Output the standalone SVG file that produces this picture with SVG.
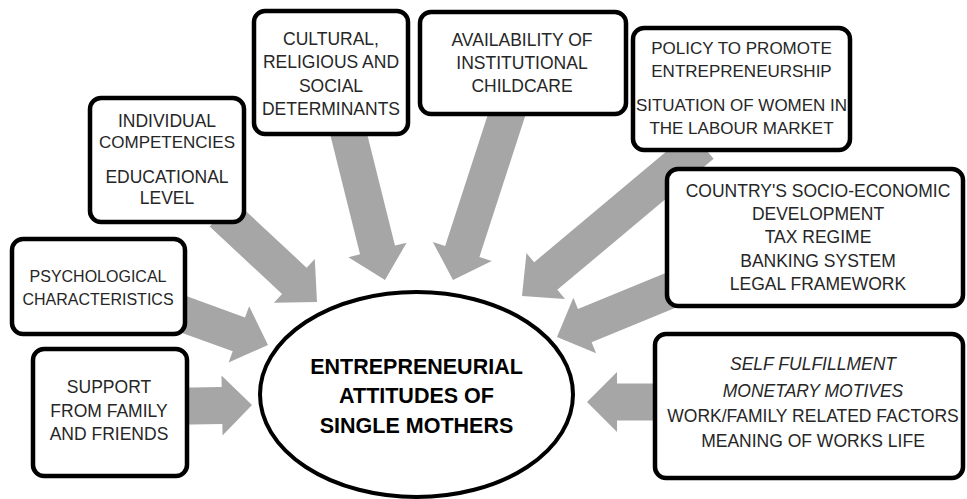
<svg xmlns="http://www.w3.org/2000/svg" width="967" height="499" viewBox="0 0 967 499">
<style>
.bg{fill:#ffffff}
.arrow{fill:#a6a6a6;stroke:none}
.box{fill:#ffffff;stroke:#000000;stroke-width:4.5}
.t{font-family:"Liberation Sans",Arial,sans-serif;font-size:17.5px;fill:#262626;text-anchor:middle}
.s{font-size:17px}
.p{font-size:16px}
.i{font-style:italic}
.b{font-family:"Liberation Sans",Arial,sans-serif;font-size:21.5px;font-weight:bold;fill:#000000;text-anchor:middle}
</style>
<rect class="bg" x="0" y="0" width="967" height="499"/>
<g id="connectors" class="arrow">
<polygon points="-130,-18 -31,-18 -31,-30 0,0 -31,30 -31,18 -130,18" transform="translate(317,302) rotate(43)"/>
<polygon points="-160,-18 -31,-18 -31,-30 0,0 -31,30 -31,18 -160,18" transform="translate(385,280) rotate(76)"/>
<polygon points="-185,-18 -30,-18 -30,-31 0,0 -30,31 -30,18 -185,18" transform="translate(453,280) rotate(108)"/>
<polygon points="-235,-18 -31,-18 -31,-30 0,0 -31,30 -31,18 -235,18" transform="translate(522,296) rotate(140)"/>
<polygon points="-130,-18 -30,-18 -30,-30 0,0 -30,30 -30,18 -130,18" transform="translate(557,337) rotate(157.7)"/>
<polygon points="-85,-18.5 -30,-18.5 -30,-30 0,0 -30,30 -30,18.5 -85,18.5" transform="translate(587,402) rotate(180)"/>
<polygon points="-75,-18.5 -30,-18.5 -30,-30 0,0 -30,30 -30,18.5 -75,18.5" transform="translate(252,405) rotate(-1)"/>
<polygon points="-98,-18 -31,-18 -31,-30 0,0 -31,30 -31,18 -98,18" transform="translate(268,345) rotate(20)"/>
</g>
<g id="individual">
<rect class="box" x="90" y="98" width="154" height="124" rx="11"/>
<text class="t" x="167" y="127">INDIVIDUAL</text>
<text class="t s" x="167" y="148">COMPETENCIES</text>
<text class="t" x="167" y="183">EDUCATIONAL</text>
<text class="t" x="167" y="204">LEVEL</text>
</g>
<g id="cultural">
<rect class="box" x="254" y="11" width="154" height="123" rx="11"/>
<text class="t" x="331" y="45">CULTURAL,</text>
<text class="t" x="331" y="68">RELIGIOUS AND</text>
<text class="t" x="331" y="92">SOCIAL</text>
<text class="t" x="331" y="115">DETERMINANTS</text>
</g>
<g id="availability">
<rect class="box" x="420" y="12" width="206" height="102" rx="11"/>
<text class="t" x="522" y="46">AVAILABILITY OF</text>
<text class="t" x="522" y="69">INSTITUTIONAL</text>
<text class="t" x="522" y="92">CHILDCARE</text>
</g>
<g id="policy">
<rect class="box" x="633" y="28" width="217" height="122" rx="11"/>
<text class="t s" x="741.5" y="54">POLICY TO PROMOTE</text>
<text class="t s" x="741.5" y="77">ENTREPRENEURSHIP</text>
<text class="t s" x="741.5" y="111">SITUATION OF WOMEN IN</text>
<text class="t s" x="741.5" y="134">THE LABOUR MARKET</text>
</g>
<g id="country">
<rect class="box" x="667" y="169" width="296" height="137" rx="11"/>
<text class="t" x="818" y="197">COUNTRY'S SOCIO-ECONOMIC</text>
<text class="t" x="818" y="220">DEVELOPMENT</text>
<text class="t" x="818" y="243">TAX REGIME</text>
<text class="t" x="818" y="267">BANKING SYSTEM</text>
<text class="t" x="818" y="290">LEGAL FRAMEWORK</text>
</g>
<g id="motives">
<rect class="box" x="655" y="334" width="308" height="144" rx="11"/>
<text class="t i" x="813" y="370">SELF FULFILLMENT</text>
<text class="t i" x="813" y="397">MONETARY MOTIVES</text>
<text class="t" x="813" y="422">WORK/FAMILY RELATED FACTORS</text>
<text class="t" x="813" y="447">MEANING OF WORKS LIFE</text>
</g>
<g id="psychological">
<rect class="box" x="12" y="239" width="173" height="95" rx="11"/>
<text class="t p" x="98" y="282">PSYCHOLOGICAL</text>
<text class="t p" x="98" y="305">CHARACTERISTICS</text>
</g>
<g id="support">
<rect class="box" x="33" y="349" width="154" height="127" rx="11"/>
<text class="t" x="109" y="393">SUPPORT</text>
<text class="t" x="109" y="417">FROM FAMILY</text>
<text class="t" x="109" y="440">AND FRIENDS</text>
</g>
<g id="center">
<ellipse cx="416.5" cy="394.5" rx="156.5" ry="102.5" fill="#ffffff" stroke="#000000" stroke-width="4"/>
<text class="b" x="416.5" y="374">ENTREPRENEURIAL</text>
<text class="b" x="416.5" y="403">ATTITUDES OF</text>
<text class="b" x="416.5" y="433">SINGLE MOTHERS</text>
</g>
</svg>
